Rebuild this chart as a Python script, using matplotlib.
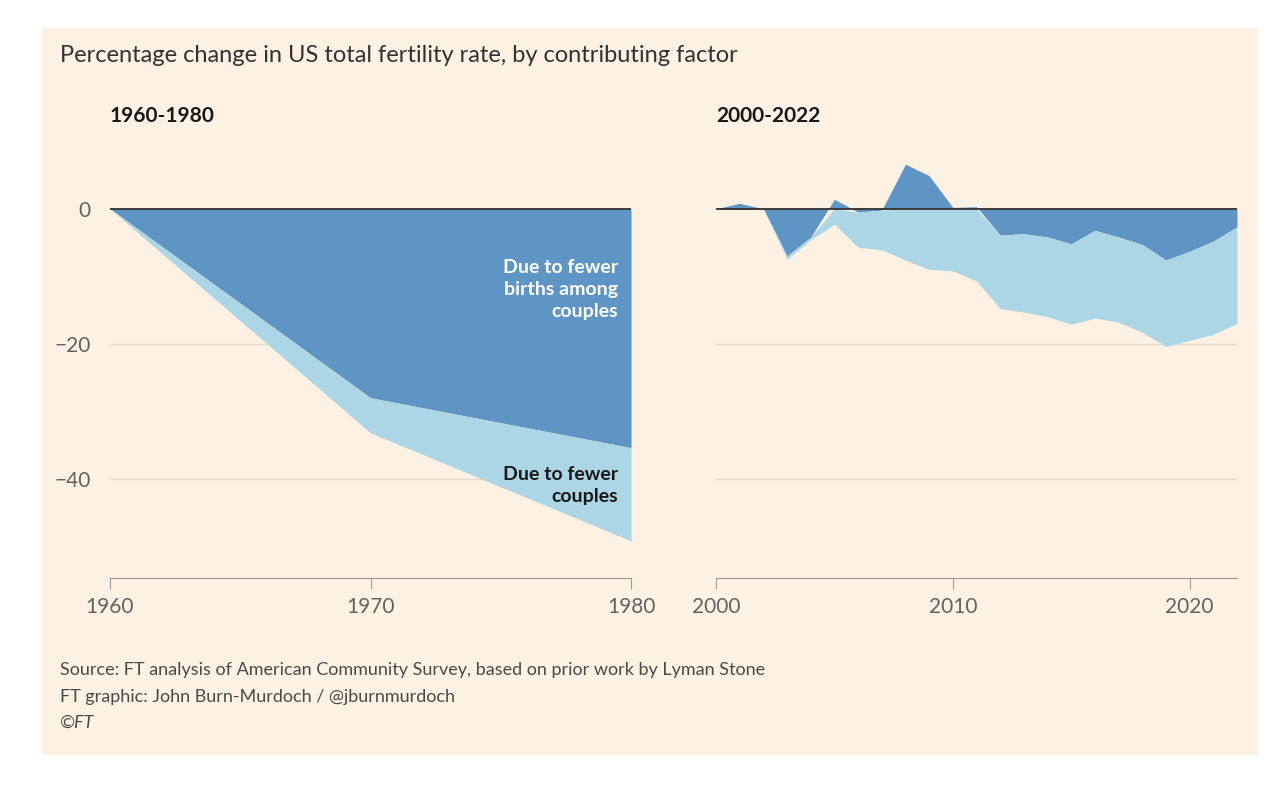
import matplotlib.pyplot as plt
import numpy as np
from matplotlib.patches import Rectangle

plt.rcParams['font.family'] = ['Lato', 'DejaVu Sans']

# 1960-1980 panel
years_a = [1960, 1970, 1980]
births_a = [0, -28.0, -35.4]
couples_a = [0, -5.2, -13.8]

# 2000-2022 panel
years_b = list(range(2000, 2023))
births_b = [0, 0.8, 0, -7.0, -4.2, 1.4, -0.5, -0.2, 6.6, 4.9, 0.2, 0.3, -3.9,
            -3.7, -4.2, -5.2, -3.2, -4.2, -5.3, -7.6, -6.3, -4.8, -2.7]
couples_b = [0, -0.1, 0, -0.5, -0.4, -2.3, -5.2, -5.9, -7.6, -9.0, -9.2, -10.7,
             -10.9, -11.6, -11.8, -11.9, -13.0, -12.6, -13.0, -12.8, -13.2, -13.8, -14.3]

DARK = '#5f95c4'
LIGHT = '#acd6e6'
BG = '#fdf1e4'
INK = '#33302e'

fig = plt.figure(figsize=(12.84, 7.88), dpi=100, facecolor='white')
fig.patches.append(Rectangle((42 / 1284, 1 - 755 / 788), 1216 / 1284, 727 / 788,
                             transform=fig.transFigure, facecolor=BG, zorder=-10))

axl = fig.add_axes([110 / 1284, 1 - 578 / 788, 521 / 1284, 428 / 788])
axr = fig.add_axes([716 / 1284, 1 - 578 / 788, 521 / 1284, 428 / 788])


def draw(ax, x, b, c, ticks):
    b = np.array(b)
    c = np.array(c)
    base = np.minimum(b, 0)
    ax.fill_between(x, 0, b, color=DARK, lw=0)
    ax.fill_between(x, base, base + c, color=LIGHT, lw=0)
    ax.set_facecolor('none')
    ax.set_xlim(x[0], x[-1])
    ax.set_ylim(-54.7, 8.7)
    for g in [-20, -40]:
        ax.axhline(g, color='#e6d9ce', lw=1, zorder=0)
    ax.axhline(0, color=INK, lw=1.3)
    for s in ['top', 'right', 'left']:
        ax.spines[s].set_visible(False)
    ax.spines['bottom'].set_color('#a09890')
    ax.set_xticks(ticks)
    ax.tick_params(axis='x', colors='#a09890', labelcolor='#66605c', labelsize=15,
                   length=8, pad=6)
    ax.set_yticks([0, -20, -40])


draw(axl, years_a, births_a, couples_a, [1960, 1970, 1980])
draw(axr, years_b, births_b, couples_b, [2000, 2010, 2020])
axl.tick_params(axis='y', length=0, labelsize=15, labelcolor='#66605c', pad=14)
axr.tick_params(axis='y', length=0, labelleft=False)

axl.text(0.975, -12, 'Due to fewer\nbirths among\ncouples', color='white', fontsize=14,
         fontweight='bold', ha='right', va='center', linespacing=1.35,
         transform=axl.get_yaxis_transform())
axl.text(0.975, -41, 'Due to fewer\ncouples', color='#1a1817', fontsize=14,
         fontweight='bold', ha='right', va='center', linespacing=1.35,
         transform=axl.get_yaxis_transform())

fig.text(60 / 1284, 1 - 56 / 788, 'Percentage change in US total fertility rate, by contributing factor',
         fontsize=17, color='#33302e', va='center')
fig.text(110 / 1284, 1 - 116 / 788, '1960-1980', fontsize=15, fontweight='bold',
         color='#1a1817', va='center')
fig.text(716 / 1284, 1 - 116 / 788, '2000-2022', fontsize=15, fontweight='bold',
         color='#1a1817', va='center')
fig.text(60 / 1284, 1 - 670 / 788,
         'Source: FT analysis of American Community Survey, based on prior work by Lyman Stone',
         fontsize=13, color='#4d4845', va='center')
fig.text(60 / 1284, 1 - 697 / 788, 'FT graphic: John Burn-Murdoch / @jburnmurdoch',
         fontsize=13, color='#4d4845', va='center')
fig.text(60 / 1284, 1 - 723 / 788, '©FT', fontsize=13, color='#4d4845', va='center',
         style='italic')

fig.savefig('out.png', dpi=100, facecolor=fig.get_facecolor())
